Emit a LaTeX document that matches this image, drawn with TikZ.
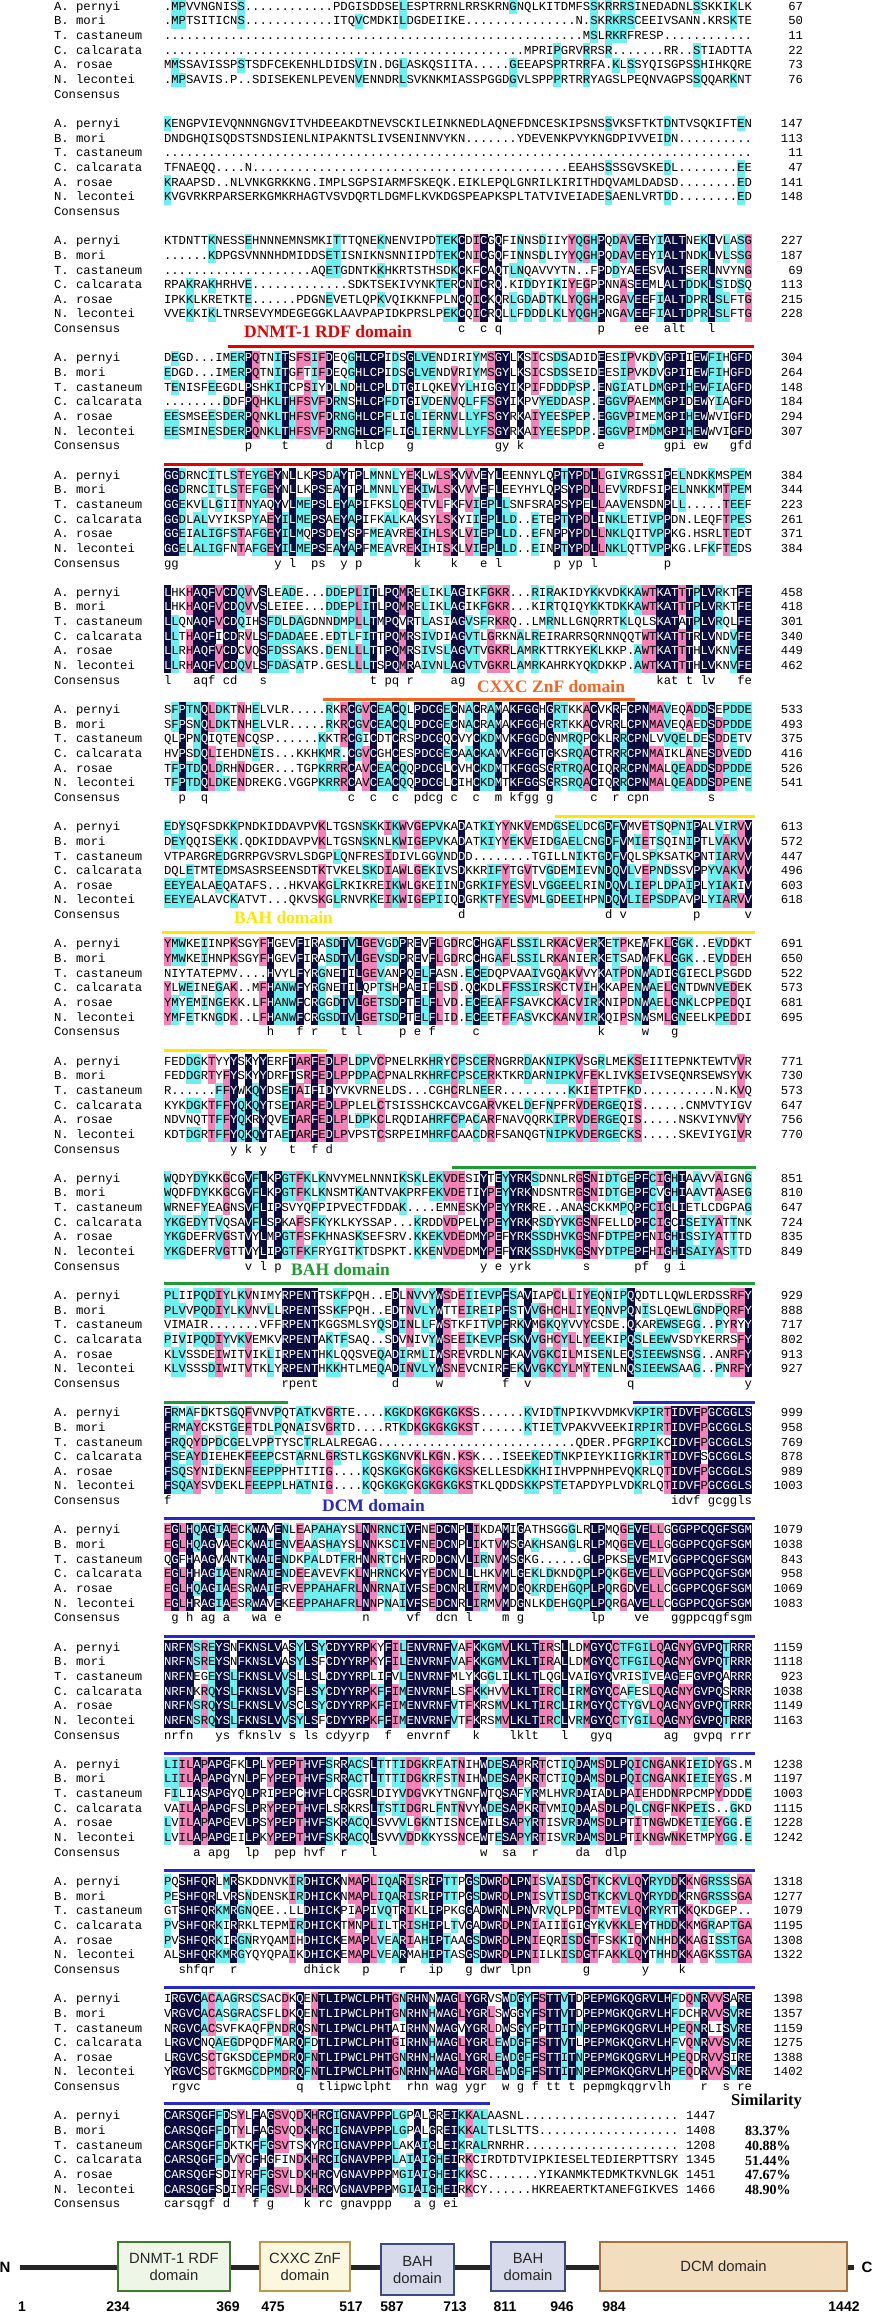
\documentclass[tikz,border=0pt]{standalone}
\usepackage{fontspec}
\setmainfont{Liberation Serif}
\newfontfamily\alfam{Liberation Mono}
\newfontfamily\sansf{Liberation Sans}
\definecolor{alnavy}{HTML}{0C0C3E}
\definecolor{alpink}{HTML}{F282B8}
\definecolor{alcyan}{HTML}{6EF0F0}
\definecolor{alred}{HTML}{E60000}
\definecolor{alorange}{HTML}{F26522}
\definecolor{alyellow}{HTML}{FFE600}
\definecolor{algreen}{HTML}{1E9B32}
\definecolor{alblue}{HTML}{2828C8}
\definecolor{dgfill}{HTML}{EEF6E8}\definecolor{dgdraw}{HTML}{3D7B2F}
\definecolor{dyfill}{HTML}{FCF8DF}\definecolor{dydraw}{HTML}{B79A4A}
\definecolor{dbfill}{HTML}{D6DAEB}\definecolor{dbdraw}{HTML}{3B4B80}
\definecolor{dtfill}{HTML}{F3DDBF}\definecolor{dtdraw}{HTML}{A8713C}
\newcommand\alfont{\alfam\fontsize{12.25pt}{14pt}\selectfont\frenchspacing}
\tikzset{
  alt/.style={anchor=base west,inner sep=0pt,outer sep=0pt,font=\alfont},
  dline/.style={line width=3pt},
  dlab/.style={anchor=base west,inner sep=0pt,font=\bfseries\fontsize{17.5pt}{20pt}\selectfont},
  dom/.style={draw,line width=1.4pt,align=center,inner sep=0pt,text=black!85,font=\sansf\fontsize{14.8pt}{17pt}\selectfont},
  bnum/.style={anchor=base,inner sep=0pt,font=\sansf\bfseries\fontsize{14pt}{14pt}\selectfont}
}
\newcommand\alfill[3]{\fill[#1] (#2-0.1,#3-7.45) rectangle ++(7.55,14.9);}
\newcommand\alW[1]{\textcolor{white}{#1}}
\newcommand\alcons[3]{\lowercase{\node[alt] at (#1,#2) {#3};}}
\newcommand\alrow[2]{\node[alt] at (164,#1) {#2};}
\newcommand\alnames[1]{\foreach \nm [count=\ii from 0] in {A. pernyi,B. mori,T. castaneum,C. calcarata,A. rosae,N. lecontei,Consensus}{\node[alt] at (54,#1+\ii*14.65+3.6) {\nm};}}
\newcommand\alnums[2]{\foreach \nn [count=\ii from 0] in {#2}{\node[alt,anchor=base east] at (803,#1+\ii*14.65+3.6) {\nn};}}

\ExplSyntaxOn
\int_new:N \l_al_col_int
\int_new:N \l_al_cnt_int
\int_new:N \l_al_len_int
\fp_new:N \l_al_y_fp
\tl_new:N \l_al_c_tl
\tl_new:N \l_al_d_tl
\tl_new:N \l_al_xc_tl
\tl_new:N \l_al_yc_tl
\tl_new:N \l_al_cons_tl
\tl_const:Nn \c_al_dot_tl {.}
\int_step_inline:nn {6} { \tl_new:c {l_al_s_#1_tl} \tl_new:c {l_al_r_#1_tl} }
\cs_new:Npn \GAP #1 { \prg_replicate:nn {#1} {.} }
\cs_new_protected:Npn \al_cmp:n #1
  {
    \tl_set:Nx \l_al_d_tl { \tl_item:cn {l_al_s_#1_tl} {\l_al_col_int} }
    \tl_if_eq:NNT \l_al_d_tl \l_al_c_tl { \int_incr:N \l_al_cnt_int }
  }
\cs_new_protected:Npn \al_fill:n #1
  { \use:x { \exp_not:N \alfill {#1} {\l_al_xc_tl} {\l_al_yc_tl} } }
\cs_new_protected:Npn \al_cell:n #1
  {
    \tl_set:Nx \l_al_c_tl { \tl_item:cn {l_al_s_#1_tl} {\l_al_col_int} }
    \bool_lazy_or:nnTF { \tl_if_empty_p:N \l_al_c_tl } { \tl_if_eq_p:NN \l_al_c_tl \c_al_dot_tl }
      { \tl_put_right:cx {l_al_r_#1_tl} {\l_al_c_tl} }
      {
        \int_zero:N \l_al_cnt_int
        \int_step_function:nN {6} \al_cmp:n
        \tl_set:Nx \l_al_yc_tl { \fp_eval:n { \l_al_y_fp + (#1 - 1) * 14.65 } }
        \int_compare:nNnTF { \l_al_cnt_int } = {6}
          {
            \al_fill:n {alnavy}
            \tl_put_right:cx {l_al_r_#1_tl} { \exp_not:N \alW {\l_al_c_tl} }
            \int_compare:nNnT {#1} = {1}
              {
                \tl_put_right:Nx \l_al_cons_tl
                  { \exp_not:N \alcons {\l_al_xc_tl} { \fp_eval:n { \l_al_y_fp + 6 * 14.65 + 3.6 } } {\l_al_c_tl} }
              }
          }
          {
            \tl_put_right:cx {l_al_r_#1_tl} {\l_al_c_tl}
            \int_case:nnF { \l_al_cnt_int }
              {
                {5} { \al_fill:n {alpink} }
                {4} { \al_fill:n {alcyan} }
                {3} { \al_fill:n {alcyan} }
              }
              { }
          }
      }
  }
\cs_new_protected:Npn \al_column:n #1
  {
    \int_set:Nn \l_al_col_int {#1}
    \tl_set:Nx \l_al_xc_tl { \fp_eval:n { 164 + (#1 - 1) * 7.35 } }
    \int_step_function:nN {6} \al_cell:n
  }
\cs_new_protected:Npn \al_block:nnnnnnnn #1#2#3#4#5#6#7#8
  {
    \fp_set:Nn \l_al_y_fp { 6.7 + 117.2 * (#1 - 1) }
    \tl_set:cx {l_al_s_1_tl} {#2}
    \tl_set:cx {l_al_s_2_tl} {#3}
    \tl_set:cx {l_al_s_3_tl} {#4}
    \tl_set:cx {l_al_s_4_tl} {#5}
    \tl_set:cx {l_al_s_5_tl} {#6}
    \tl_set:cx {l_al_s_6_tl} {#7}
    \int_zero:N \l_al_len_int
    \int_step_inline:nn {6}
      {
        \tl_clear:c {l_al_r_##1_tl}
        \int_set:Nn \l_al_len_int { \int_max:nn {\l_al_len_int} { \tl_count:c {l_al_s_##1_tl} } }
      }
    \tl_clear:N \l_al_cons_tl
    \int_step_function:nN {\l_al_len_int} \al_column:n
    \int_step_inline:nn {6}
      {
        \use:x
          {
            \exp_not:N \alrow
              { \fp_eval:n { \l_al_y_fp + (##1 - 1) * 14.65 + 3.6 } }
              { \exp_not:v {l_al_r_##1_tl} }
          }
      }
    \tl_use:N \l_al_cons_tl
    \use:x { \exp_not:N \alnames { \fp_eval:n {\l_al_y_fp} } }
    \tl_if_blank:nF {#8}
      { \use:x { \exp_not:N \alnums { \fp_eval:n {\l_al_y_fp} } { \exp_not:n {#8} } } }
  }
\NewDocumentCommand \alblock { m m m m m m m m }
  { \al_block:nnnnnnnn {#1} {#2} {#3} {#4} {#5} {#6} {#7} {#8} }
\ExplSyntaxOff

\begin{document}
\begin{tikzpicture}[x=1pt,y=-1pt]
\useasboundingbox (0,0) rectangle (874,2313);
\fill[white] (0,0) rectangle (874,2313);

\alblock{1}
{.MPVVNGNISS\GAP{12}PDGISDDSELESPTRRNLRRSKRNGNQLKITDMFSSKRRRSINEDADNLSSKKIKLK}
{.MPTSITICNS\GAP{12}ITQVCMDKILDGDEIIKE\GAP{15}N.SKRKRSCEEIVSANN.KRSKTE}
{\GAP{57}MSLRKRFRESP\GAP{12}}
{\GAP{49}MPRIPGRVRRSR\GAP{7}RR..STIADTTA}
{MMSSAVISSPSTSDFCEKENHLDIDSVIN.DGLASKQSIITA\GAP{5}GEEAPSPRTRRFA.KLSSYQISGPSSHIHKQRE}
{.MPSAVIS.P..SDISEKENLPEVENVENNDRLSVKNKMIASSPGGDGVLSPPPRTRRYAGSLPEQNVAGPSSQQARKNT}
{67,50,11,22,73,76}

\alblock{2}
{KENGPVIEVQNNNGNGVITVHDEEAKDTNEVSCKILEINKNEDLAQNEFDNCESKIPSNSSVKSFTKTDNTVSQKIFTEN}
{DNDGHQISQDSTSNDSIENLNIPAKNTSLIVSENINNVYKN\GAP{7}YDEVENKPVYKNGDPIVVEIDN\GAP{10}}
{\GAP{80}}
{TFNAEQQ\GAP{4}N\GAP{43}EEAHSSSSGVSKEDL\GAP{8}EE}
{KRAAPSD..NLVNKGRKKNG.IMPLSGPSIARMFSKEQK.EIKLEPQLGNRILKIRITHDQVAMLDADSD\GAP{8}ED}
{KVGVRKRPARSERKGMKRHAGTVSVDQRTLDGMFLKVKDGSPEAPKSPLTATVIVEIADESAENLVRTDD\GAP{8}ED}
{147,113,11,47,141,148}

\alblock{3}
{KTDNTTKNESSEHNNNEMNSMKITTTQNEKNENVIPDTEKCDICGQFINNSDIIYYQGHPQDAVEEYIALTNEKLVLASG}
{\GAP{6}KDPGSVNNNHDMIDDSETISNIKNSNNIIPDTEKCNICGQFINNSDLIYYQGHPQDAVEEYIALTNDKLVLSSG}
{\GAP{20}AQETGDNTKKHKRTSTHSDKCKFCAQTLNQAVVYTN..FPDDYAEESVALTSERLNVYNG}
{RPAKRAKHRHVE\GAP{13}SDKTSEKIVYNKTERCNICRQ.KIDDYIKIYEGPPNNASEEMLALTDDKLSIDSQ}
{IPKKLKRETKTE\GAP{6}PDGNEVETLQPKVQIKKNFPLNCQICKQRLGDADTKLYQGHPRGAVEEFIALTDPRLSLFTG}
{VVEKKIKLTNRSEVYMDEGEGGKLAAVPAPIDKPRSLPEKCQICRQLLFDDDLKLYQGHPNGAVEEFIALTDPRLSLFTG}
{227,187,69,113,215,228}

\alblock{4}
{DEGD...IMERPQTNITSFSIFDEQGHLCPIDSGLVENDIRIYMSGYLKSICSDSADIDEESIPVKDVGPIIEWFIHGFD}
{EDGD...IMERPQTNITGFTIFDEQGHLCPIDSGLVENDVRIYMSGYLKSICSDSSEIDEESIPVKDVGPIIEWFIHGFD}
{TENISFEEGDLPSHKITCPSIYDLNDHLCPLDTGILQKEVYLHIGGYIKPIFDDDPSP.ENGIATLDMGPIHEWFIAGFD}
{\GAP{8}DDFPQHKLTHFSVFDRNSHLCPFDTGIVDENVQLFFSGYIKPVYEDDASP.EGGVPAEMMGPIDEWYIAGFD}
{EESMSEESDERPQNKLTHFSVFDRNGHLCPFLIGLIERNVLLYFSGYRKAIYEESPEP.EGGVPIMEMGPIHEWWVIGFD}
{EESMINESDERPQNKLTHFSVFDRNGHLCPFLIGLIERNVLLYFSGYRKAIYEESPDP.EGGVPIMDMGPIHEWWVIGFD}
{304,264,148,184,294,307}

\alblock{5}
{GGDRNCITLSTEYGEYNLLKPSDAYTPLMNNLYEKLWLSKVVVEYLEENNYLQPTYPDLLGIVRGSSIPELNDKKMSPEM}
{GGDRNCITLSTEFGEYNLLKPSEAYTPLMNNLYEKIWLSKVVVEFLEEYHYLQPSYPDLLEVVRDFSIPELNNKKMTPEM}
{GGEKVLLGIITNYAQYVLMEPSLEYAPIFKSLQEKTVLFKFVIEPLLSNFSRAPSYPELLAAVENSDNPLL.....TEEF}
{GGDLALVYIKSPYAEYILMEPSAEYAPIFKALKAKSYLSKYIIEPLLD..ETEPTYPDLINKLETIVPPDN.LEQFTPES}
{GGEIALIGFSTAFGEYILMQPSDEYSPFMEAVREKIHLSKLVIEPLLD..EFNPPYPDLLNKLQITVPPKG.HSRLTEDT}
{GGELALIGFNTAFGEYILMEPSEAYAPFMEAVREKIHISKLVIEPLLD..EINPTYPDLLNKLQTTVPPKG.LFKFTEDS}
{384,344,223,261,371,384}

\alblock{6}
{LHKHAQFVCDQVVSLEADE...DDEPLITLPQMRELIKLAGIKFGKR...RIRAKIDYKKVDKKAWTKATTTPLVRKTFE}
{LHKHAQFVCDQVVSLEIEE...DDEPLITLPQMRELIKLAGIKFGKR...KIRTQIQYKKTDKKAWTKATTTPLVRKTFE}
{LLQNAQFVCDQIHSFDLDAGDNNDMPLLTMPQVRTLASIAGVSFRKRQ..LMRNLLGNQRRTKLQLSKATATPLVRQLFE}
{LLTHAQFICDRVLSFDADAEE.EDTLFITTPQMRSIVDIAGVTLGRKNALREIRARRSQRNNQQTWTKATTTRLVNDVFE}
{LLRHAQFVCDCVQSFDSSAKS.DENLLLTTPQMRSIVSLAGVTVGKRLAMRKTTRKYEKLKKP.AWTKATTTHLVKNVFE}
{LLRHAQFVCDQVLSFDASATP.GESLLLTSPQMRAIVNLAGVTVGKRLAMRKAHRKYQKDKKP.AWTKATTTHLVKNVFE}
{458,418,301,340,449,462}

\alblock{7}
{SFPTNQLDKTNHELVLR.....RKRCGVCEACQLPDCGECNACRAMAKFGGHGRTKKACVKRFCPNMAVEQADDSEPDDE}
{SFPSNQLDKTNHELVLR.....RKRCGVCEACQLPDCGECNACRAMAKFGGHGRTKKACVRRLCPNMAVEQAEDSDPDDE}
{QLPPNQIQTENCQSP......KKTRCGICDTCRSPDCGQCVYCKDMVKFGGDGNMRQPCKLRRCPNLVVQELDESDDETV}
{HVPSDQLIEHDNEIS...KKHKMR.CGVCGHCESPDCGECAACKAMVKFGGTGKSRQACTRRRCPNMAIKLANESDVEDD}
{TFPTDQLDRHNDGER...TGPKRRRCAVCEACQQPDCGLCVHCKDMTKFGGSGRTRQACIQRRCPNMALQEADDSDPDDE}
{TFPTDQLDKENDREKG.VGGPKRRRCAVCEACQQPDCGLCIHCKDMTKFGGSGRSRQACIQRRCPNMALQEADDSDPENE}
{533,493,375,416,526,541}

\alblock{8}
{EDYSQFSDKKPNDKIDDAVPVKLTGSNSKKIKWVGEPVKADATKIYYNKVEMDGSELDCGDFVMVETSQPNIPALVIRVV}
{DEYQQISEKK.QDKIDDAVPVKLTGSNSKNLKWIGEPVKADATKIYYEKVEIDGAELCNGDFVMIETSQINIPTLVAKVV}
{VTPARGREDGRRPGVSRVLSDGPLQNFRESIDIVLGGVNDDD\GAP{8}TGILLNIKTGDFVQLSPKSATKPNTIARVV}
{DQLETMTEDMSASRSEENSDTKTVKELSKDIAWLGEKIVSDKKRIFYTGVTVGDEMIEVNDQVLVEPNDSSVPPYVAKVV}
{EEYEALAEQATAFS...HKVAKGLRKIKREIKWLGKEIINDGRKIFYESVLVGGEELRINDQVLIEPLDPAIPLYIAKIV}
{EEYEALAVCKATVT...QKVSKGLRNVRKEIKWIGEPIIQDGRKTFYESVMLGDEEIHPNDQVLIEPSDPAVPLYIARVV}
{613,572,447,496,603,618}

\alblock{9}
{YMWKEIINPKSGYFHGEVFIRASDTVLGEVGDPREVFLGDRCCHGAFLSSILRKACVERKETPKEWFKLGGK..EVDDKT}
{YMWKEIHNPKSGYFHGEVFIRASDTVLGEVSDPREVFLGDRCCHGAFLSSILRKANIERKETSADWFKLGGK..EVDDEH}
{NIYTATEPMV....HVYLFYRGNETILGEVANPQELFASN.ECEDQPVAAIVGQAKVVYKATPDNWADIGGIECLPSGDD}
{YLWEINEGAK..MFHANWFYRGNETILQPTSHPAEIFLSD.QCKDLFFSSIRSKCTVIHKKAPENWAELGNTDWNVEDEK}
{YMYEMINGEKK.LFHANWFCRGGDTVLGETSDPTELFLVD.ECEEAFFSAVKCKACVIRKNIPDNWAELGNKLCPPEDQI}
{YMFETKNGDK..LFHANWFCRGSDTVLGETSDPTELFLID.ECEETFFASVKCKANVIRKQIPSNWSMLGNEELKPEDDI}
{691,650,522,573,681,695}

\alblock{10}
{FEDDGKTYYYSKYYERFTARFEDLPLDPVCPNELRKHRYCPSCERNGRRDAKNIPKVSGRLMEKSEIITEPNKTEWTVVR}
{FEDDGRTYFYSKYYDRFTSRFEDLPPDPACPNALRKHRFCPSCERKTKRDARNIPKVFEKLIVKSEIVSEQNRSEWSYVK}
{R\GAP{6}FFYWKQYDSETAIFIDYVKVRNELDS\GAP{3}CGHCRLNEER\GAP{9}KKIETPTFKD\GAP{10}N.KVQ}
{KYKDGKTFFYQKQYTSETARFEDLPPLELCTSISSHCKCAVCGARVKELDEFNPFRVDERGEQIS\GAP{6}CNMVTYIGV}
{NDVNQTTFFYQKRYQVETARFEDLPLDPKCLRQDIAHRFCPACARFNAVQQRKIPRVDERGEQIS.....NSKVIYNVVY}
{KDTDGRTFFYQKQYTAETARFEDLPVPSTCSRPEIMHRFCAACDRFSANQGTNIPKVDERGECKS.....SKEVIYGIVR}
{771,730,573,647,756,770}

\alblock{11}
{WQDYDYKKGCGVFLKPGTFKLKNVYMELNNNIKSKLEKVDESIYTEYYRKSDNNLRGSNIDTGEPFCIGHIAAVVAIGNG}
{WQDFDYKKGCGVFLKPGTFKLKNSMTKANTVAKPRFEKVDETIYPEYYRKNDSNTRGSNIDTGEPFCVGHIAAVTAASEG}
{WRNEFYEAGNSVFLIPSVYQFPIPVECTFDDAK....EMNESKYPEYYRKRE..ANASCKKMPQPFCIGLIETLCDGPAG}
{YKGEDYTVQSAVFLSPKAFSFKYKLKYSSAP...KRDDVDPELYPEYYRKRSDYVKGSNFELLDPFCIGCISEIYATTNK}
{YKGDEFRVGSTVYLMPGTFSFKHNASKSEFSRV.KKEKVDEDMYPEFYRKSSDHVKGSNFDTPEPFNIGHISSIYATTTD}
{YKGDEFRVGTTVYLIPGTFKFRYGITKTDSPKT.KKENVDEDMYPEFYRKSSDHVKGSNYDTPEPFHIGHISAIYASTTD}
{851,810,647,724,835,849}

\alblock{12}
{PLIIPQDIYLKVNIMYRPENTTSKFPQH..EDLNVVYWSDEIIEVPFSAVIAPCLLIYEQNIPQQDTLLQWLERDSSRFY}
{PLVVPQDIYLKVNVLLRPENTSSKFPQH..EDTNVLYWTTEIREIPFSTVVGHCHLIYEQNVPQNISLQEWLGNDPQRFY}
{VIMAIR\GAP{7}VFFRPENTKGGSMLSYQSDINLLFWSTKFITVPFRKVMGKQYVVYCSDE.QKAREWSEGG..PYRYY}
{PIVIPQDIYVKVEMKVRPENTAKTFSAQ..SDVNIVYWSEEIKEVPFSKVVGHCYLLYEEKIPQSLEEWVSDYKERRSFY}
{KLVSSDEIWITVIKLIRPENTHKLQQSVEQADIRMLIWSREVRDLNFKAVVGKCILMISENLEQSIEEWSNSG..ANRFY}
{KLVSSSDIWITVTKLYRPENTHKKHTLMEQADINVLYWSNEVCNIRFEKVVGKCYLMYTENLNQSIEEWSAAG..PNRFY}
{929,888,717,802,913,927}

\alblock{13}
{FRMAFDKTSGQFVNVPQTATKVGRTE....KGKDKGKGKGKSS......KVIDTNPIKVVDMKVKPIRTIDVFPGCGGLS}
{FRMAYCKSTGEFTDLPQNAISVGRTD....RTKDKGKGKGKST......KTIETVPAKVVEEKIRPIRTIDVFPGCGGLS}
{FRQQYDPDCGELVPPTYSCTRLALREGAG\GAP{27}QDER.PFGRPIKCIDVFPGCGGLS}
{FSEAYDIEHEKFEEPCSTARNLGRSTLKGSKGNVKLKGN.KSK...ISEEKEDTNKPIEYKIIGRKIRTIDVFSGCGGLS}
{FSQSYNIDEKNFEEPPPHTITIG....KQSKGKGKGKGKGKSKELLESDKKHIIHVPPNHPEVQKRLQTIDVFPGCGGLS}
{FSQAYSVDEKLFEEPPLHATNIG....KQGKGKGKGKGKGKSTKLQDDSKKPSTETAPDYPLVDKRLQTIDVFPGCGGLS}
{999,958,769,878,989,1003}

\alblock{14}
{EGLHQAGIAECKWAVENLEAPAHAYSLNNRNCIVFNEDCNPLIKDAMIGATHSGGGLRLPMQGEVELLGGGPPCQGFSGM}
{EGLHQAGVAECKWAIENVEAASHAYSLNNKSCIVFNEDCNPLIKTVMSGAKHSANGLRLPMQGEVELLGGGPPCQGFSGM}
{QGFHAAGVANTKWAIENDKPALDTFRHNNRTCHVFRDDCNVLIRNVMSGKG......GLPPKSEVEMIVGGPPCQGFSGM}
{EGLHHAGIAENRWAIENDEEAVEVFKLNHRNCKVFYEDCNLLLHKVMLGEKLDKNDQPLPQKGEVELLVGGPPCQGFSGM}
{EGLHQAGIAESRWAIERVEPPAHAFRLNNRNAIVFSEDCNRLIRMVMDGQKRDEHGQPLPQRGDVELLCGGPPCQGFSGM}
{EGLHRAGIAESRWAVEKEEPPAHAFRLNNPNAIVFSEDCNRLIRMVMDGNLKDEHGQPLPQRGAVELLCGGPPCQGFSGM}
{1079,1038,843,958,1069,1083}

\alblock{15}
{NRFNSREYSNFKNSLVASYLSYCDYYRPKYFILENVRNFVAFKKGMVLKLTIRSLLDMGYQCTFGILQAGNYGVPQTRRR}
{NRFNSREYSNFKNSLVASYLSFCDYYRPKYFILENVRNFVAFKKGMVLKLTIRALLDMGYQCTFGILQAGNYGVPQTRRR}
{NRFNEGEYSLFKNSLVVSLLSLCDYYRPLIFVLENVRNFMLYKGGLILKLTLQGLVAIGYQVRISIVEAGEFGVPQARRR}
{NRFNKRQYSLFKNSLVVSFLSYCDYYRPKFFIMENVRNFLSFKKHVVLKLTIRCLIRMGYQCAFESLQAGNYGVPQSRRR}
{NRFNSRQYSLFKNSLVVSCLSYCDYYRPKFFIMENVRNFVTFKRSMVLKLTIRCLIRMGYQCTYGVLQAGNYGVPQTRRR}
{NRFNSRQYSLFKNSLVVSYLSFCDYYRPKFFIMENVRNFVTFKRSMVLKLTIRCLVRMGYQCTYGILQAGNYGVPQTRRR}
{1159,1118,923,1038,1149,1163}

\alblock{16}
{LIILAPAPGFKLPLYPEPTHVFSRRACSLTTTIDGKRFATNIHWDESAPRRTCTIQDAMSDLPQICNGANKIEIDYGS.M}
{LIILAPAPGYNLPFYPEPTHVFSRRACTLTTTIDGKRFSTNIHWDESAPKRTCTIQDAMSDLPQICNGANKIEIEYGS.M}
{FILIASAPGYQLPRIPEPCHVFLCRGSRLDIYVDGVKYTNGNFWTQSAFYRMLHVRDAIADLPAIEHDDNRPCMPYDDDE}
{VAILAPAPGFSLPRYPEPTHVFLSRKRSLTSTIDGRLFNTNVYWDESAPKRTVMIQDAASDLPQLCNGFNKPEIS..GKD}
{LVILAPAPGEVLPSYPEPTHVFSKRACQLSVVVLGKNTISNCEWILSAPYRTISVRDAMSDLPTITNGWDKETIEYGG.E}
{LVILAPAPGEILPKYPEPTHVFSKRACQLSVVVDDKKYSSNCEWTESAPYRTISVRDAMSDLPTIKNGWNKETMPYGG.E}
{1238,1197,1003,1115,1228,1242}

\alblock{17}
{PQSHFQRLMRSKDDNVKIRDHICKNMAPLIQARISRIPTTPGSDWRDLPNISVAISDGTKCKVLQYRYDDKKNGRSSSGA}
{PESHFQRLVRSNDENSKIRDHICKNMAPLIQARISRIPTTPGSDWRDLPNISVTISDGTKCKVLQYRYDDKRNGRSSSGA}
{GTSHFQRKMRGNQEE..LLDHICKPIAPIVQTRIKLIPPKGGADWRNLPNVRVQLPDGTMTEVLQYRYRTKKQKDGEP..}
{PVSHFQRKIRRKLTEPMIRDHICKTMNPLILTRISHIPLTVGADWRDLPNIAIIIGIGYKVKKLEYTHDDKKMGRAPTGA}
{PVSHFQRKIRGNRYQAMIHDHICKEMAPLVEARIAHIPTAAGSDWRDLPNIEQRISDGTFSKKIQYNHHDKKAGISSTGA}
{ALSHFQRKMRGYQYQPAIKDHICKEMAPLVEARMAHIPTASGSDWRDLPNIILKISDGTFAKKLQYTHHDKKAGKSSTGA}
{1318,1277,1079,1195,1308,1322}

\alblock{18}
{IRGVCACAAGRSCSACDKQENTLIPWCLPHTGNRHNNWAGLYGRVSWDGYFSTTVTDPEPMGKQGRVLHFDQNRVVSARE}
{VRGVCACASGRACSFLDKQENTLIPWCLPHTGNRHNHWAGLYGRLSWGGYFSTTVTDPEPMGKQGRVLHFDCHRVVSVRE}
{NRGVCACSVFKAQFPNDRQSNTLIPWCLPHTAIRHNNWAGVYGRLDWSGYFPTTITNPEPMGKQGRVLHPEQNRLISVRE}
{LRGVCNQAEGDPQDFMARQFDTLIPWCLPHTGIRHNHWAGLYGRLEWDGFFSTTVTLPEPMGKQGRVLHFVQNRVVSVRE}
{LRGVCSCTGKSDCEPMDRQFNTLIPWCLPHTGNRHNHWAGLYGRLEWDGFFSTTITNPEPMGKQGRVLHPEQDRVVSIRE}
{YRGVCSCTGKMGCDPMDRQFNTLIPWCLPHTGNRHNHWAGLYGRLEWDGFFSTTITNPEPMGKQGRVLHPEQDRVVSVRE}
{1398,1357,1159,1275,1388,1402}

\alblock{19}
{CARSQGFFDSYLFAGSVQDKHRCIGNAVPPPLGPALGREIKKALAASNL\GAP{21}}
{CARSQGFFDTYLFAGSVQDKHRCIGNAVPPPLGPALGREIKKALTLSLTTS\GAP{19}}
{CARSQGFFDKTKFFGSVTSKYRCIGNAVPPPLAKAIGLEIKRALRNRHR\GAP{21}}
{CARSQGFFDVYCFHGFINDKHRCIGNAVPPPLAIAIGHEIRKCIRDTDTVIPKIESELTEDIERPTTSRY}
{CARSQGFSDIYRFFGSVLDKHRCVGNAVPPPMGIAIGHEIKKSC\GAP{7}YIKANMKTEDMKTKVNLGK}
{CARSQGFSDIYRFFGSVLDKHRCVGNAVPPPMGIAIGHEIRKCY\GAP{6}HKREAERTKTANEFGIKVES}
{}
\foreach \nn [count=\ii from 0] in {1447,1408,1208,1345,1451,1466}
  \node[alt] (n19-\ii) at (686,2116.3+\ii*14.65+3.6) {\nn};

% domain annotation lines and labels
\draw[dline,alred] (228,346.7) -- (754,346.7);
\draw[dline,alred] (164,464) -- (643,464);
\node[dlab,text=alred] (lrdf) at (244,337.5) {DNMT-1 RDF domain};
\draw[dline,alorange] (323,699.3) -- (635,699.3);
\node[dlab,text=alorange] (lcxxc) at (477,692) {CXXC ZnF domain};
\draw[dline,alyellow] (555,816) -- (755,816);
\draw[dline,alyellow] (162,932) -- (755,932);
\draw[dline,alyellow] (164,1050) -- (327,1050);
\node[dlab,text=alyellow] (lbah1) at (234,923) {BAH domain};
\draw[dline,algreen] (452,1167.7) -- (756,1167.7);
\draw[dline,algreen] (164,1283.7) -- (755,1283.7);
\draw[dline,algreen] (164,1402) -- (288,1402);
\node[dlab,text=algreen] (lbah2) at (291,1275) {BAH domain};
\draw[dline,alblue] (633,1402) -- (755,1402);
\foreach \yy in {1518,1636.3,1753.3,1870.3,1987.3}
  \draw[dline,alblue] (164,\yy) -- (755,\yy);
\draw[dline,alblue] (164,2103.3) -- (490,2103.3);
\node[dlab,text=alblue] (ldcm) at (322,1511) {DCM domain};

% similarity
\node[anchor=base west,inner sep=0pt,font=\bfseries\fontsize{16.5pt}{18pt}\selectfont] (sim) at (731,2105.5) {Similarity};
\foreach \pp [count=\ii from 1] in {83.37\%,40.88\%,51.44\%,47.67\%,48.90\%}
  \node[anchor=base west,inner sep=0pt,font=\bfseries\fontsize{14pt}{16pt}\selectfont] (p\ii) at (745,2116.3+\ii*14.65+5) {\pp};

% bottom domain map
\coordinate (lineL) at (20,2267);
\coordinate (lineR) at (854,2267);
\draw[line width=5pt,black!85] (lineL) -- (lineR);
\node[font=\sansf\bfseries\fontsize{15pt}{15pt}\selectfont,inner sep=0pt] (nterm) at (5,2267) {N};
\node[font=\sansf\bfseries\fontsize{15pt}{15pt}\selectfont,inner sep=0pt] (cterm) at (867,2267) {C};
\node[dom,fill=dgfill,draw=dgdraw,minimum width=112pt,minimum height=49pt] (rdf) at (174,2266.5) {DNMT-1 RDF\\domain};
\node[dom,fill=dyfill,draw=dydraw,minimum width=90pt,minimum height=49pt] (cxxc) at (305,2266.5) {CXXC ZnF\\domain};
\node[dom,fill=dbfill,draw=dbdraw,minimum width=73pt,minimum height=51pt] (bah1) at (417.5,2269.5) {BAH\\domain};
\node[dom,fill=dbfill,draw=dbdraw,minimum width=74pt,minimum height=49pt] (bah2) at (528,2266.5) {BAH\\domain};
\node[dom,fill=dtfill,draw=dtdraw,minimum width=247pt,minimum height=49pt] (dcm) at (723.5,2266.5) {DCM domain};
\foreach \xx/\lab in {22/1,118/234,228/369,273/475,351/517,392/587,455/713,505/811,562/946,614/984,844/1442}
  \node[bnum] (b\lab) at (\xx,2311.5) {\lab};
\end{tikzpicture}
\end{document}
